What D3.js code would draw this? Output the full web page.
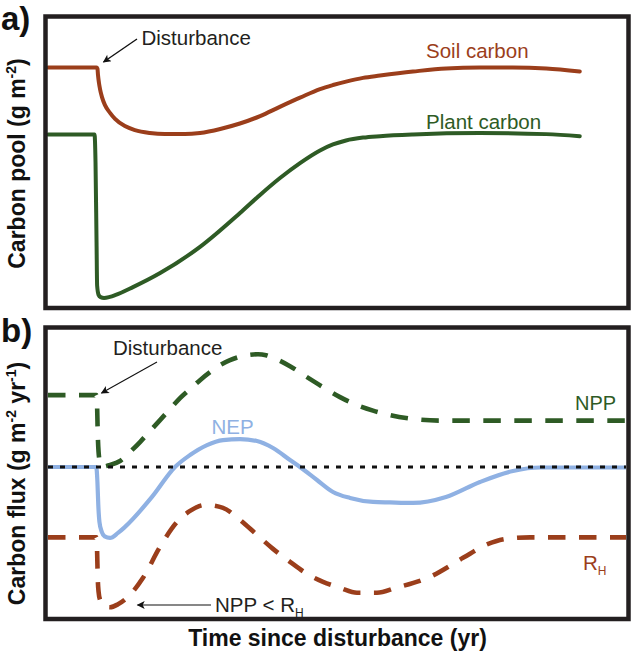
<!DOCTYPE html>
<html><head><meta charset="utf-8">
<script src="https://cdn.jsdelivr.net/npm/d3@7"></script>
<style>body{margin:0;background:#fff}svg{display:block}</style>
</head><body>
<svg id="chart" width="633" height="658"></svg>
<script>
// ---------- data (time since disturbance, arbitrary units 0-100) ----------
const soilCarbon = [[0,83],[8.4,83],[8.56,82.6],[8.65,80.4],[8.82,77.6],[9.0,75.5],[9.34,72.7],[9.86,69.9],[10.73,67.2],[11.6,65.1],[13.3,62.6],[15.05,61.2],[17.6,60.2],[20.2,59.8],[23.7,59.8],[26.3,60.2],[29.8,61.6],[33.2,63.5],[36.7,66.1],[40.1,69.3],[43.6,72.5],[47.06,75.5],[49.3,76.9],[51.56,78.1],[54.5,79.4],[57.44,80.2],[63.15,81.6],[68.9,82.7],[74.7,83.0],[80.4,83.0],[86.2,82.7],[92.0,81.6]];
const plantCarbon = [[0,59.7],[8.05,59.7],[8.22,50],[8.4,22],[8.5,7],[8.75,3.8],[9.1,3.0],[9.7,2.7],[10.7,3.1],[11.6,3.7],[14.7,6.5],[19.4,11.4],[26.3,20.5],[33.22,32.3],[36.68,38.6],[40.14,44.5],[43.6,49.7],[47.06,54.1],[49.3,56.2],[51.56,57.6],[54.5,58.6],[57.44,59.1],[63.15,59.7],[74.7,60.2],[86.2,59.8],[92.0,59.1]];
const npp = [[0,1.44],[8.35,1.44],[8.5,1.2],[8.6,0.7],[8.75,0.3],[9.0,0.1],[9.52,0.01],[10.73,0.04],[12.46,0.12],[14.19,0.30],[15.92,0.50],[17.65,0.72],[19.38,0.94],[21.11,1.16],[22.84,1.38],[24.57,1.56],[26.3,1.74],[28.03,1.90],[29.76,2.04],[31.49,2.14],[33.22,2.21],[34.95,2.25],[36.33,2.26],[37.72,2.24],[38.93,2.19],[41.87,2.02],[44.81,1.80],[47.58,1.60],[50.52,1.40],[53.46,1.24],[56.23,1.13],[59.17,1.04],[62.63,0.97],[67.82,0.93],[74.74,0.93],[100,0.93]];
const nep = [[0,0],[8.35,0],[8.55,-0.3],[8.7,-0.76],[8.9,-1.1],[9.3,-1.3],[9.8,-1.39],[10.73,-1.42],[12.11,-1.32],[13.32,-1.2],[17.99,-0.6],[21.97,0],[24.57,0.24],[27.51,0.44],[30.28,0.54],[33.22,0.56],[36.16,0.52],[38.93,0.38],[41.87,0.14],[43.6,0],[46.54,-0.26],[49.31,-0.5],[52.25,-0.62],[56.23,-0.7],[59.17,-0.71],[63.15,-0.72],[68.86,-0.6],[74.74,-0.3],[80.45,-0.08],[85.1,-0.01],[100,-0.01]];
const rh = [[0,-1.41],[8.35,-1.41],[8.5,-1.7],[8.6,-2.2],[8.75,-2.5],[9.0,-2.66],[9.69,-2.79],[10.73,-2.81],[12.11,-2.75],[13.67,-2.62],[16.44,-2.22],[19.38,-1.6],[22.32,-1.1],[24.57,-0.88],[27.16,-0.76],[30.28,-0.82],[33.22,-1.06],[36.16,-1.36],[38.93,-1.64],[41.87,-1.9],[44.81,-2.14],[47.58,-2.3],[50.52,-2.42],[53.46,-2.52],[56.92,-2.52],[60.21,-2.42],[66.09,-2.2],[71.8,-1.82],[75.78,-1.56],[79.24,-1.44],[83.39,-1.41],[100,-1.41]];
const zeroLine = [[0,0],[100,0]];
const timeDomain = [0, 100];
const poolDomain = [0, 100];
const fluxDomain = [-3, 2.75];

// ---------- colors ----------
const C = {brown:"#9b3e1b", green:"#2e5b25", blue:"#8fb1e3", frame:"#231f20", text:"#231f20"};
const FONT = "'Liberation Sans', Arial, Helvetica, sans-serif";

const svg = d3.select("#chart").style("font-family", FONT);
svg.append("rect").attr("width",633).attr("height",658).attr("fill","#fff");

const x = d3.scaleLinear().domain(timeDomain).range([48, 626]);
const yA = d3.scaleLinear().domain(poolDomain).range([305.75, 18.75]);
const yB = d3.scaleLinear().domain(fluxDomain).range([616.75, 329.75]);

const defs = svg.append("defs");
defs.append("clipPath").attr("id","clipB").append("rect")
  .attr("x",47.75).attr("y",329.75).attr("width",578.5).attr("height",287);
defs.append("marker").attr("id","arrow").attr("viewBox","0 0 10 10")
  .attr("refX",9).attr("refY",5).attr("markerWidth",11).attr("markerHeight",8)
  .attr("markerUnits","userSpaceOnUse").attr("orient","auto")
  .append("path").attr("d","M0,0 L10,5 L0,10 L2.5,5 Z").attr("fill","#111");

const lineA = d3.line().x(d=>x(d[0])).y(d=>yA(d[1])).curve(d3.curveMonotoneX);
const lineB = d3.line().x(d=>x(d[0])).y(d=>yB(d[1])).curve(d3.curveMonotoneX);

// ---------- panel a ----------
const gA = svg.append("g");
gA.append("path").datum(soilCarbon).attr("d",lineA).attr("fill","none")
  .attr("stroke",C.brown).attr("stroke-width",4).attr("stroke-linecap","round").attr("stroke-linejoin","round");
gA.append("path").datum(plantCarbon).attr("d",lineA).attr("fill","none")
  .attr("stroke",C.green).attr("stroke-width",4).attr("stroke-linecap","round").attr("stroke-linejoin","round");
gA.append("rect").attr("x",45.5).attr("y",16.5).attr("width",583).attr("height",291.5)
  .attr("fill","none").attr("stroke",C.frame).attr("stroke-width",4.5);

gA.append("text").attr("x",426).attr("y",58).attr("fill",C.brown).attr("font-size",20.5).text("Soil carbon");
gA.append("text").attr("x",426).attr("y",129).attr("fill",C.green).attr("font-size",20.5).text("Plant carbon");
gA.append("text").attr("x",141.5).attr("y",45).attr("fill",C.text).attr("font-size",20.5).text("Disturbance");
gA.append("line").attr("x1",137).attr("y1",39).attr("x2",103.5).attr("y2",62)
  .attr("stroke","#111").attr("stroke-width",1.4).attr("marker-end","url(#arrow)");

// ---------- panel b ----------
const gB = svg.append("g");
const gBc = gB.append("g").attr("clip-path","url(#clipB)");
gBc.append("path").datum(rh).attr("d",lineB).attr("fill","none")
  .attr("stroke",C.brown).attr("stroke-width",4.6).attr("stroke-dasharray","17.5,13.5");
gBc.append("path").datum(npp).attr("d",lineB).attr("fill","none")
  .attr("stroke",C.green).attr("stroke-width",4.6).attr("stroke-dasharray","17.5,13.5");
gBc.append("path").datum(nep).attr("d",lineB).attr("fill","none")
  .attr("stroke",C.blue).attr("stroke-width",4.2).attr("stroke-linejoin","round");
gBc.append("path").datum(zeroLine).attr("d",lineB).attr("fill","none")
  .attr("stroke","#111").attr("stroke-width",3).attr("stroke-dasharray","5,7");
gB.append("rect").attr("x",45.5).attr("y",327.5).attr("width",583).attr("height",291.5)
  .attr("fill","none").attr("stroke",C.frame).attr("stroke-width",4.5);

gB.append("text").attr("x",113).attr("y",354.5).attr("fill",C.text).attr("font-size",20.5).text("Disturbance");
gB.append("line").attr("x1",157).attr("y1",362).attr("x2",101.5).attr("y2",393)
  .attr("stroke","#111").attr("stroke-width",1.1).attr("marker-end","url(#arrow)");
gB.append("text").attr("x",211.5).attr("y",433.5).attr("fill",C.blue).attr("font-size",20.5).text("NEP");
gB.append("text").attr("x",575).attr("y",409.5).attr("fill",C.green).attr("font-size",20).text("NPP");
const rhT = gB.append("text").attr("x",583).attr("y",569.5).attr("fill",C.brown).attr("font-size",20.5);
rhT.append("tspan").text("R");
rhT.append("tspan").attr("font-size",12).attr("dy",5).text("H");
const nT = gB.append("text").attr("x",215).attr("y",612).attr("fill",C.text).attr("font-size",20.5);
nT.append("tspan").text("NPP < R");
nT.append("tspan").attr("font-size",12).attr("dy",5).text("H");
gB.append("line").attr("x1",211).attr("y1",605).attr("x2",137.5).attr("y2",605)
  .attr("stroke","#111").attr("stroke-width",1.1).attr("marker-end","url(#arrow)");

// ---------- panel letters & axis titles ----------
svg.append("text").attr("x",1).attr("y",30).attr("font-size",33).attr("font-weight","bold").attr("fill","#111").text("a)");
svg.append("text").attr("x",1).attr("y",341.5).attr("font-size",33).attr("font-weight","bold").attr("fill","#111").text("b)");

function yTitle(cy, parts){
  const t = svg.append("text").attr("transform",`translate(25,${cy}) rotate(-90)`)
    .attr("text-anchor","middle").attr("font-size",23).attr("font-weight","bold").attr("fill","#111");
  parts.forEach(p=>{
    const s = t.append("tspan").text(p.t);
    if(p.sup){ s.attr("font-size",14).attr("dy",-9); }
    if(p.back){ s.attr("dy",9); }
  });
}
yTitle(163.5, [{t:"Carbon pool (g m"},{t:"-2",sup:true},{t:")",back:true}]);
yTitle(483.5, [{t:"Carbon flux (g m"},{t:"-2",sup:true},{t:" yr",back:true},{t:"-1",sup:true},{t:")",back:true}]);

svg.append("text").attr("x",337.5).attr("y",646).attr("text-anchor","middle")
  .attr("font-size",23).attr("font-weight","bold").attr("fill","#111").text("Time since disturbance (yr)");
</script>
</body></html>
